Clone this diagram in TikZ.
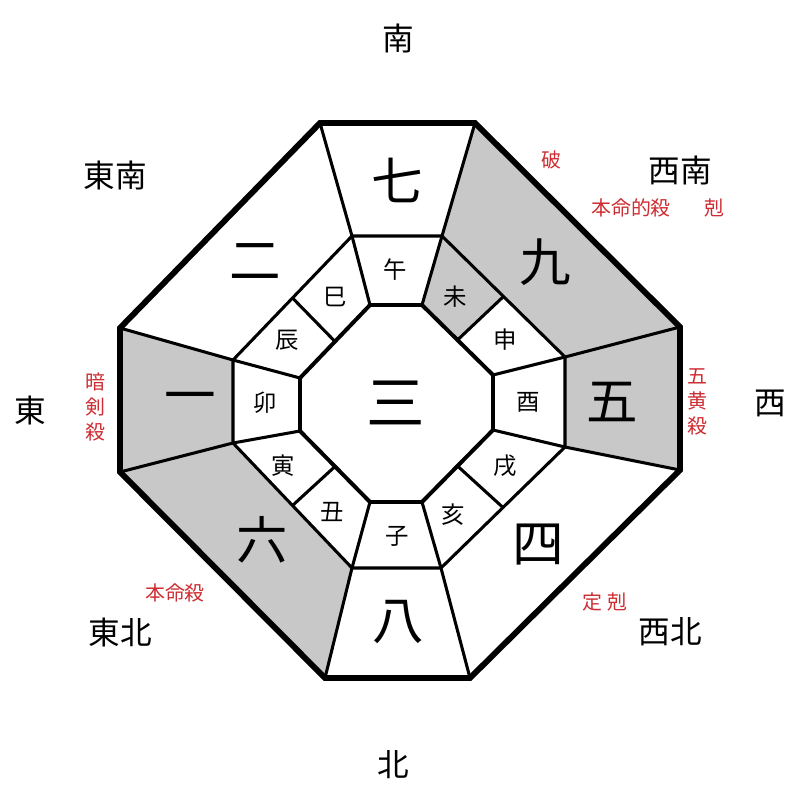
\documentclass[tikz,border=0pt]{standalone}
\usepackage{fontspec}
\setmainfont{Noto Sans CJK JP}
\usetikzlibrary{calc}
\definecolor{cellgray}{RGB}{200,200,200}
\definecolor{warn}{RGB}{205,45,50}
\tikzset{
    num/.style={font=\fontsize{44}{44}\selectfont},
    zod/.style={font=\fontsize{20}{20}\selectfont},
    dir/.style={font=\fontsize{27}{27}\selectfont},
    warnlbl/.style={text=warn, font=\fontsize{17}{21}\selectfont, align=center},
    rim/.style={line width=5pt, line join=miter},
    ring/.style={line width=2.6pt},
    core/.style={line width=3.4pt}
}

\begin{document}
\begin{tikzpicture}[x=0.3mm, y=-0.3mm]
    \useasboundingbox (0,0) rectangle (800,800);

    % outer octagon
    \coordinate (o1) at (320,123);
    \coordinate (o2) at (475,123);
    \coordinate (o3) at (680,327);
    \coordinate (o4) at (680,470);
    \coordinate (o5) at (470,678);
    \coordinate (o6) at (325,678);
    \coordinate (o7) at (120,472);
    \coordinate (o8) at (120,328);
    % middle octagon
    \coordinate (m1) at (352,236);
    \coordinate (m2) at (442,236);
    \coordinate (m3) at (565,357);
    \coordinate (m4) at (565,447);
    \coordinate (m5) at (441,568);
    \coordinate (m6) at (352,568);
    \coordinate (m7) at (233,443);
    \coordinate (m8) at (233,360);
    % inner octagon
    \coordinate (i1) at (370,305);
    \coordinate (i2) at (422,305);
    \coordinate (i3) at (493,375);
    \coordinate (i4) at (493,430);
    \coordinate (i5) at (422,502);
    \coordinate (i6) at (370,502);
    \coordinate (i7) at (300,431);
    \coordinate (i8) at (300,378);

    \fill[cellgray] (o2) -- (o3) -- (m3) -- (m2) -- cycle;
    \fill[cellgray] (o3) -- (o4) -- (m4) -- (m3) -- cycle;
    \fill[cellgray] (o6) -- (o7) -- (m7) -- (m6) -- cycle;
    \fill[cellgray] (o7) -- (o8) -- (m8) -- (m7) -- cycle;
    \fill[cellgray] (i2) -- (m2) -- ($(m2)!.5!(m3)$) -- ($(i2)!.5!(i3)$) -- cycle;

    \foreach \k in {1,...,8} {
        \draw[ring] (i\k) -- (m\k) -- (o\k);
    }
    \foreach \a/\b in {1/8,2/3,4/5,6/7} {
        \draw[ring] ($(i\a)!.5!(i\b)$) -- ($(m\a)!.5!(m\b)$);
    }
    \draw[ring] (m1) -- (m2) -- (m3) -- (m4) -- (m5) -- (m6) -- (m7) -- (m8) -- cycle;
    \draw[core] (i1) -- (i2) -- (i3) -- (i4) -- (i5) -- (i6) -- (i7) -- (i8) -- cycle;
    \draw[rim] (o1) -- (o2) -- (o3) -- (o4) -- (o5) -- (o6) -- (o7) -- (o8) -- cycle;

    \node (n3) [font=\fontsize{50}{50}\selectfont] at (396,403) {三};
    \node (n7) [num] at (397,180) {七};
    \node (n9) [num] at (545,262) {九};
    \node (n5) [num] at (612,402) {五};
    \node (n4) [num] at (538,545) {四};
    \node (n8) [num] at (398,622) {八};
    \node (n6) [num] at (262,540) {六};
    \node (n1) [num] at (190,403) {一};
    \node (n2) [num] at (255,262) {二};

    \node (uma) [zod] at (395,270) {午};
    \node (hitsuji) [zod] at (455,297) {未};
    \node (saru) [zod] at (505,340) {申};
    \node (tori) [zod] at (528,402) {酉};
    \node (inu) [zod] at (505,466) {戌};
    \node (inoshishi) [zod] at (453,515) {亥};
    \node (ne) [zod] at (397,536) {子};
    \node (ushi) [zod] at (332,512) {丑};
    \node (tora) [zod] at (283,466) {寅};
    \node (usagi) [zod] at (265,403) {卯};
    \node (tatsu) [zod] at (287,340) {辰};
    \node (mi) [zod] at (335,297) {巳};

    \node (south) [dir] at (398,38) {南};
    \node (southwest) [dir] at (680,170) {西南};
    \node (west) [dir] at (770,403) {西};
    \node (northwest) [dir] at (670,632) {西北};
    \node (north) [dir] at (393,765) {北};
    \node (northeast) [dir] at (120,632) {東北};
    \node (east) [dir] at (30,410) {東};
    \node (southeast) [dir] at (115,175) {東南};

    \node (ha) [warnlbl] at (551,160) {破};
    \node (honmeiteki) [warnlbl] at (631,208) {本命的殺};
    \node (koku) [warnlbl] at (714,208) {剋};
    \node (gooh) [warnlbl] at (697,402) {五\\黄\\殺};
    \node (anken) [warnlbl] at (95,407) {暗\\剣\\殺};
    \node (honmei) [warnlbl] at (175,593) {本命殺};
    \node (tei) [warnlbl] at (605,602) {定 剋};
\end{tikzpicture}
\end{document}
